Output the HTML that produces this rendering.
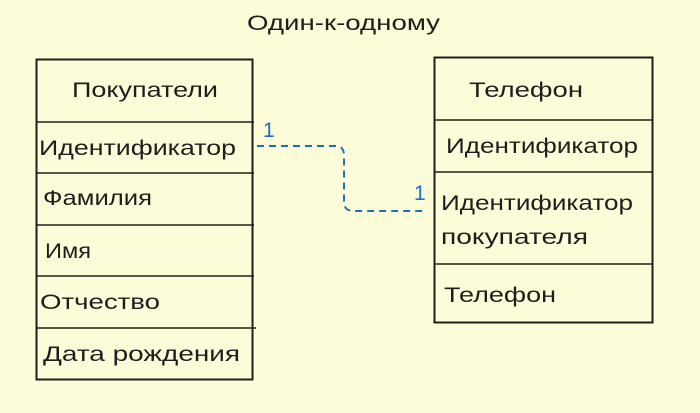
<!DOCTYPE html>
<html><head><meta charset="utf-8"><style>
body{margin:0;background:#fcfdd8;}
svg{display:block}
text{font-family:"Liberation Sans","DejaVu Sans",sans-serif;fill:#1e1e1e;font-size:21px}
</style></head><body>
<svg width="700" height="413" viewBox="0 0 700 413">
<rect width="700" height="413" fill="#fcfdd8"/>
<text x="247" y="30" font-size="22" textLength="193" lengthAdjust="spacingAndGlyphs">Один-к-одному</text>
<g stroke="#1e1e1e" fill="none">
<rect x="36.5" y="59.5" width="216" height="320" stroke-width="2"/>
<path d="M36 122H254M36 173H254M36 225H254M36 276H254M36 328H256" stroke-width="1.5"/>
<rect x="434.5" y="57.5" width="218" height="265" stroke-width="2"/>
<path d="M434 120H653M434 172H653M434 264H653" stroke-width="1.5"/>
</g>
<text x="72" y="97" textLength="146" lengthAdjust="spacingAndGlyphs">Покупатели</text>
<text x="39" y="155" textLength="197" lengthAdjust="spacingAndGlyphs">Идентификатор</text>
<text x="43" y="205" textLength="109" lengthAdjust="spacingAndGlyphs">Фамилия</text>
<text x="45" y="258" textLength="46" lengthAdjust="spacingAndGlyphs">Имя</text>
<text x="40" y="309" textLength="120" lengthAdjust="spacingAndGlyphs">Отчество</text>
<text x="43" y="361" textLength="197" lengthAdjust="spacingAndGlyphs">Дата рождения</text>
<text x="469" y="97" textLength="114" lengthAdjust="spacingAndGlyphs">Телефон</text>
<text x="446" y="153" textLength="192" lengthAdjust="spacingAndGlyphs">Идентификатор</text>
<text x="441" y="210" textLength="192" lengthAdjust="spacingAndGlyphs">Идентификатор</text>
<text x="441" y="244" textLength="147" lengthAdjust="spacingAndGlyphs">покупателя</text>
<text x="444" y="302" textLength="112" lengthAdjust="spacingAndGlyphs">Телефон</text>
<path d="M257 146H336Q344 146 344 156V202Q344 211 354 211H426" stroke="#1971c2" stroke-width="2" fill="none" stroke-dasharray="7 5"/>
<text x="263" y="137" style="fill:#1971c2">1</text>
<text x="414" y="200" style="fill:#1971c2">1</text>
</svg>
</body></html>
